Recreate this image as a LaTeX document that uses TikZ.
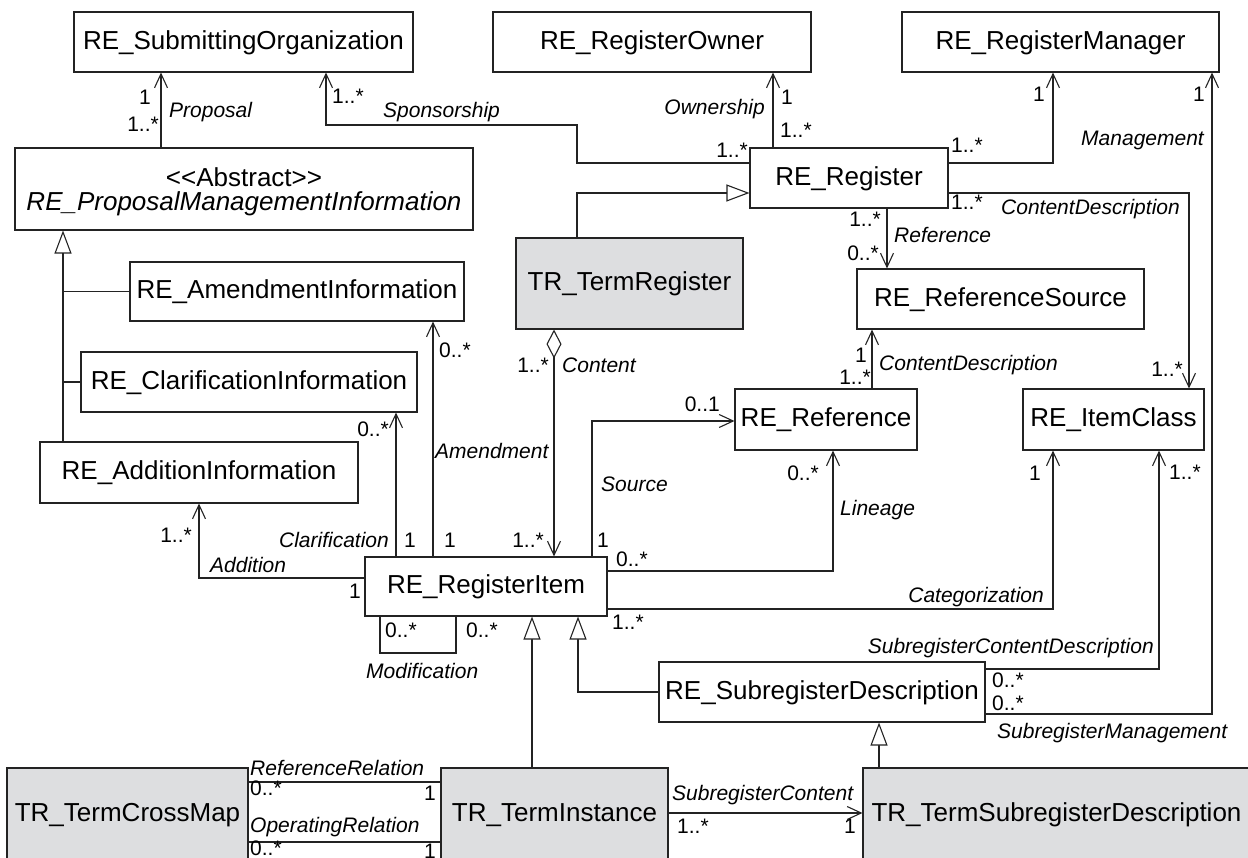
\documentclass[tikz,border=0pt]{standalone}
\usepackage{fontspec}
\setmainfont{Liberation Sans}
\usetikzlibrary{arrows.meta}
\definecolor{termgray}{RGB}{221,222,224}
\definecolor{linegray}{RGB}{35,35,35}
\newcommand\boxfont{\fontsize{26}{24}\selectfont}
\newcommand\labfont{\fontsize{21}{24}\selectfont}
\begin{document}
\begin{tikzpicture}[x=1pt,y=-1pt,
  box/.style={draw=linegray, line width=1.1pt, fill=white, inner sep=0pt,
    font=\boxfont, align=center},
  cls/.style={box, text height=19.5pt, text depth=5.2pt},
  term/.style={cls, fill=termgray},
  lab/.style={font=\labfont\itshape, inner sep=0pt},
  mul/.style={font=\labfont, inner sep=0pt},
  link/.style={draw=linegray, line width=1.1pt},
  assoc/.style={link, -{Straight Barb[length=14pt,width=13pt]}},
  gen/.style={link, -{Triangle[length=23pt,width=17pt,fill=white]}},
  aggr/.style={link, {Diamond[length=29pt,width=15pt,fill=white]}-{Straight Barb[length=14pt,width=13pt]}},
]
\clip (0,0) rectangle (1248,858);

% ---------- classes ----------
\node[cls, minimum width=339pt, minimum height=60pt] (subm) at (243.5,42) {RE\_SubmittingOrganization};
\node[cls, minimum width=318pt, minimum height=60pt] (owner) at (652,42) {RE\_RegisterOwner};
\node[cls, minimum width=317pt, minimum height=60pt] (manager) at (1060.5,42) {RE\_RegisterManager};
\node[box, minimum width=458pt, minimum height=82pt] (pmi) at (244,189)
  {\rule{0pt}{24.6pt}<{}<Abstract>{}>\\{\itshape RE\_ProposalManagementInformation}};
\node[cls, minimum width=198pt, minimum height=60pt] (register) at (849,178) {RE\_Register};
\node[term, minimum width=227pt, minimum height=91pt] (termreg) at (629.5,283.5) {TR\_TermRegister};
\node[cls, minimum width=334pt, minimum height=59pt] (amend) at (297,291.5) {RE\_AmendmentInformation};
\node[cls, minimum width=287pt, minimum height=60pt] (refsrc) at (1000.5,299) {RE\_ReferenceSource};
\node[cls, minimum width=336pt, minimum height=60pt] (clarif) at (249,382) {RE\_ClarificationInformation};
\node[cls, minimum width=182pt, minimum height=61pt] (reference) at (826,419.5) {RE\_Reference};
\node[cls, minimum width=181pt, minimum height=61pt] (itemclass) at (1113.5,419.5) {RE\_ItemClass};
\node[cls, minimum width=318pt, minimum height=61pt] (addition) at (199,472.5) {RE\_AdditionInformation};
\node[cls, minimum width=242pt, minimum height=59pt] (item) at (486,586.5) {RE\_RegisterItem};
\node[cls, minimum width=326pt, minimum height=60pt] (subdesc) at (822,692) {RE\_SubregisterDescription};
\node[term, minimum width=241pt, minimum height=92pt] (crossmap) at (127.5,814) {TR\_TermCrossMap};
\node[term, minimum width=227pt, minimum height=92pt] (terminst) at (554.5,814) {TR\_TermInstance};
\node[term, minimum width=387pt, minimum height=92pt] (termsub) at (1056.5,814) {TR\_TermSubregisterDescription};

% ---------- generalisations ----------
\draw[gen] (addition.north -| 63,0) -- (pmi.south -| 63,0);
\draw[link] (amend.west) -- (amend.west -| 63,0);
\draw[link] (clarif.west) -- (clarif.west -| 63,0);
\draw[gen] (termreg.north -| 577,0) -- (577,193) -- (register.west |- 0,193);
\draw[gen] (terminst.north -| 532,0) -- (item.south -| 532,0);
\draw[gen] (subdesc.west) -- (subdesc.west -| 578,0) -- (item.south -| 578,0);
\draw[gen] (termsub.north -| 879,0) -- (subdesc.south -| 879,0);

% ---------- associations ----------
\draw[assoc] (pmi.north -| 161,0) -- (subm.south -| 161,0);
\draw[assoc] (register.west |- 0,163) -- (577,163) -- (577,125) -- (326,125) -- (subm.south -| 326,0);
\draw[assoc] (register.north -| 773,0) -- (owner.south -| 773,0);
\draw[assoc] (register.east |- 0,163) -- (1053,163) -- (manager.south -| 1053,0);
\draw[assoc] (register.east |- 0,193) -- (1189,193) -- (itemclass.north -| 1189,0);
\draw[assoc] (register.south -| 887,0) -- (refsrc.north -| 887,0);
\draw[assoc] (reference.north -| 872,0) -- (refsrc.south -| 872,0);
\draw[aggr] (termreg.south -| 554,0) -- (item.north -| 554,0);
\draw[assoc] (item.north -| 433,0) -- (amend.south -| 433,0);
\draw[assoc] (item.north -| 396,0) -- (clarif.south -| 396,0);
\draw[assoc] (item.west |- 0,578) -- (199,578) -- (addition.south -| 199,0);
\draw[assoc] (item.north -| 592,0) -- (592,421) -- (reference.west |- 0,421);
\draw[assoc] (item.east |- 0,571) -- (833,571) -- (reference.south -| 833,0);
\draw[assoc] (item.east |- 0,609) -- (1053,609) -- (itemclass.south -| 1053,0);
\draw[link] (item.south -| 380,0) -- (380,653) -- (456,653) -- (item.south -| 456,0);
\draw[assoc] (subdesc.east |- 0,669) -- (1159,669) -- (itemclass.south -| 1159,0);
\draw[assoc] (subdesc.east |- 0,714) -- (1212,714) -- (manager.south -| 1212,0);
\draw[link] (crossmap.east |- 0,782) -- (terminst.west |- 0,782);
\draw[link] (crossmap.east |- 0,842) -- (terminst.west |- 0,842);
\draw[assoc] (terminst.east |- 0,813) -- (termsub.west |- 0,813);

% ---------- role names and multiplicities ----------
\node[mul, anchor=base east] (m01) at (151,105) {1};
\node[mul, anchor=base east] (m02) at (159,132) {1..*};
\node[lab, anchor=base west] (l01) at (169,118) {Proposal};
\node[mul, anchor=base west] (m03) at (332,104) {1..*};
\node[lab, anchor=base west] (l02) at (383,118) {Sponsorship};
\node[mul, anchor=base east] (m04) at (748,158) {1..*};
\node[lab, anchor=base east] (l03) at (765,115) {Ownership};
\node[mul, anchor=base west] (m05) at (781,105) {1};
\node[mul, anchor=base west] (m06) at (780,138) {1..*};
\node[mul, anchor=base east] (m07) at (1045,102) {1};
\node[mul, anchor=base east] (m08) at (1205,102) {1};
\node[mul, anchor=base west] (m09) at (951,153) {1..*};
\node[lab, anchor=base east] (l04) at (1204,146) {Management};
\node[mul, anchor=base west] (m10) at (951,210) {1..*};
\node[lab, anchor=base west] (l05) at (1001,215) {ContentDescription};
\node[mul, anchor=base east] (m11) at (881,227) {1..*};
\node[lab, anchor=base west] (l06) at (894,243) {Reference};
\node[mul, anchor=base east] (m12) at (879,261) {0..*};
\node[mul, anchor=base east] (m13) at (867,363) {1};
\node[mul, anchor=base east] (m14) at (871,385) {1..*};
\node[lab, anchor=base west] (l07) at (879,371) {ContentDescription};
\node[mul, anchor=base east] (m15) at (1183,377) {1..*};
\node[mul, anchor=base west] (m16) at (439,358) {0..*};
\node[mul, anchor=base east] (m17) at (549,373) {1..*};
\node[lab, anchor=base west] (l08) at (562,373) {Content};
\node[lab, anchor=base west] (l09) at (435,458) {Amendment};
\node[mul, anchor=base east] (m18) at (720,412) {0..1};
\node[mul, anchor=base east] (m19) at (389,437) {0..*};
\node[mul, anchor=base east] (m20) at (192,542) {1..*};
\node[lab, anchor=base east] (l10) at (389,547) {Clarification};
\node[lab, anchor=base west] (l11) at (210,572) {Addition};
\node[mul, anchor=base east] (m21) at (361,598) {1};
\node[mul, anchor=base west] (m22) at (404,547) {1};
\node[mul, anchor=base west] (m23) at (385,637) {0..*};
\node[lab, anchor=base west] (l12) at (366,678) {Modification};
\node[mul, anchor=base west] (m24) at (444,547) {1};
\node[mul, anchor=base east] (m25) at (544,547) {1..*};
\node[mul, anchor=base west] (m26) at (597,547) {1};
\node[mul, anchor=base west] (m27) at (616,566) {0..*};
\node[mul, anchor=base west] (m28) at (612,629) {1..*};
\node[mul, anchor=base west] (m29) at (466,637) {0..*};
\node[lab, anchor=base west] (l13) at (601,491) {Source};
\node[mul, anchor=base east] (m30) at (819,480) {0..*};
\node[lab, anchor=base west] (l14) at (840,515) {Lineage};
\node[mul, anchor=base east] (m31) at (1041,480) {1};
\node[mul, anchor=base west] (m32) at (1169,479) {1..*};
\node[lab, anchor=base east] (l15) at (1044,602) {Categorization};
\node[lab, anchor=base east] (l16) at (1154,653) {SubregisterContentDescription};
\node[mul, anchor=base west] (m33) at (992,687) {0..*};
\node[mul, anchor=base west] (m34) at (992,710) {0..*};
\node[lab, anchor=base west] (l17) at (997,738) {SubregisterManagement};
\node[lab, anchor=base west] (l18) at (250,775) {ReferenceRelation};
\node[mul, anchor=base west] (m35) at (250,795) {0..*};
\node[mul, anchor=base east] (m36) at (436,800) {1};
\node[lab, anchor=base west] (l19) at (250,832) {OperatingRelation};
\node[mul, anchor=base west] (m37) at (250,855) {0..*};
\node[mul, anchor=base east] (m38) at (436,858) {1};
\node[lab, anchor=base west] (l20) at (672,800) {SubregisterContent};
\node[mul, anchor=base west] (m39) at (677,833) {1..*};
\node[mul, anchor=base east] (m40) at (856,833) {1};
\end{tikzpicture}
\end{document}
